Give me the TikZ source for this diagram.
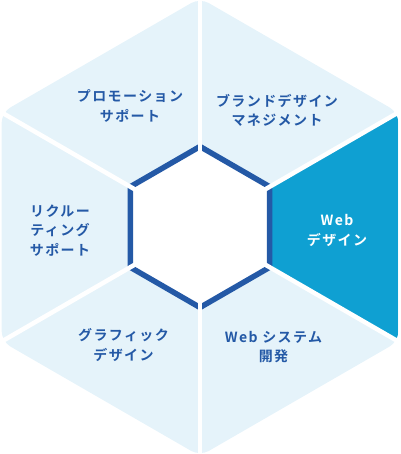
\documentclass[tikz,border=0pt]{standalone}
\usepackage{fontspec}
\newfontfamily\jpfont{Noto Sans CJK JP Bold}[LetterSpace=10]
\usetikzlibrary{calc}
\definecolor{segfill}{HTML}{E5F3FA}
\definecolor{webfill}{HTML}{0FA0D2}
\definecolor{rimblue}{HTML}{2459A6}
\definecolor{labelblue}{HTML}{2459A6}
\tikzset{
  seglabel/.style={align=center, text=labelblue, inner sep=0pt,
                   font=\jpfont\fontsize{14}{19.5}\selectfont},
  weblabel/.style={seglabel, text=white},
  rim/.style={draw=rimblue, line width=5.5pt},
  divider/.style={draw=white, line width=4.5pt},
}
\def\outR{229}
\def\inR{80.5}
\def\labR{140}

\begin{document}
\begin{tikzpicture}[x=1pt, y=1pt]
\useasboundingbox (0,0) rectangle (400,454);
\coordinate (ctr) at (200,227);

% Corners of the outer and the inner hexagon, pointy top
\foreach \i in {1,...,6} {
  \coordinate (o\i) at ($(ctr)+({30+60*(\i-1)}:\outR)$);
  \coordinate (i\i) at ($(ctr)+({30+60*(\i-1)}:\inR)$);
}

% Segments
\fill[segfill, rounded corners=10pt] (o1) -- (o2) -- (o3) -- (o4) -- (o5) -- (o6) -- cycle;
\begin{scope}
  \clip[rounded corners=10pt] (o1) -- (o2) -- (o3) -- (o4) -- (o5) -- (o6) -- cycle;
  \fill[webfill] (ctr) -- (o6) -- (o1) -- cycle;
\end{scope}

% Inner hexagon and its rim
\fill[white] (i1) -- (i2) -- (i3) -- (i4) -- (i5) -- (i6) -- cycle;
\draw[rim] (i1) -- (i2) -- (i3) -- (i4) -- (i5) -- (i6) -- cycle;

% White gaps between the segments
\foreach \i in {1,...,6} {
  \draw[divider] (ctr) -- (o\i);
}

% Labels
\node[weblabel, xshift=-3pt, yshift=-3.5pt] (webdesign) at ($(ctr)+(0:\labR)$) {Web\\デザイン};
\node[seglabel, xshift=7pt, yshift=-4.5pt]  (brand)     at ($(ctr)+(60:\labR)$) {ブランドデザイン\\マネジメント};
\node[seglabel]                             (promo)     at ($(ctr)+(120:\labR)$) {プロモーション\\サポート};
\node[seglabel, yshift=-3.5pt]              (recruit)   at ($(ctr)+(180:\labR)$) {リクルー\\ティング\\サポート};
\node[seglabel, xshift=-6.5pt, yshift=3pt]  (graphic)   at ($(ctr)+(240:\labR)$) {グラフィック\\デザイン};
\node[seglabel, xshift=3.5pt, yshift=1pt]   (websys)    at ($(ctr)+(300:\labR)$) {Web システム\\開発};

\end{tikzpicture}
\end{document}
